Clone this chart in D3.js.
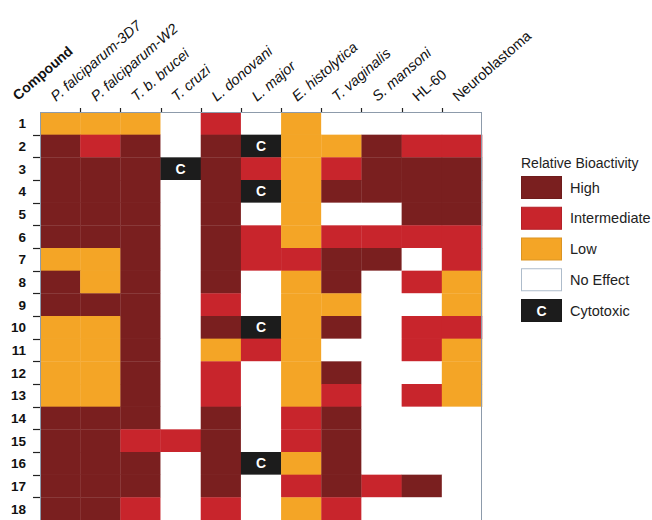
<!DOCTYPE html>
<html>
<head>
<meta charset="utf-8">
<script src="https://cdn.jsdelivr.net/npm/d3@7"></script>
<style>
  html, body { margin: 0; padding: 0; background: #fff; }
  svg { display: block; }
  text { font-family: "Liberation Sans", Arial, Helvetica, sans-serif; }
</style>
</head>
<body>
<svg id="chart" width="652" height="520"></svg>
<script>
// ---- data ----
const compounds = ["1","2","3","4","5","6","7","8","9","10","11","12","13","14","15","16","17","18"];
const organisms = ["P. falciparum-3D7","P. falciparum-W2","T. b. brucei","T. cruzi","L. donovani","L. major",
                   "E. histolytica","T. vaginalis","S. mansoni","HL-60","Neuroblastoma"];
const italicOrganisms = [true,true,true,true,true,true,true,true,true,false,false];
// H = High, I = Intermediate, L = Low, N = No Effect, C = Cytotoxic
const activity = [
  ["L","L","L","N","I","N","L","N","N","N","N"],
  ["H","I","H","N","H","C","L","L","H","I","I"],
  ["H","H","H","C","H","I","L","I","H","H","H"],
  ["H","H","H","N","H","C","L","H","H","H","H"],
  ["H","H","H","N","H","N","L","N","N","H","H"],
  ["H","H","H","N","H","I","L","I","I","I","I"],
  ["L","L","H","N","H","I","I","H","H","N","I"],
  ["H","L","H","N","H","N","L","H","N","I","L"],
  ["H","H","H","N","I","N","L","L","N","N","L"],
  ["L","L","H","N","H","C","L","H","N","I","I"],
  ["L","L","H","N","L","I","L","N","N","I","L"],
  ["L","L","H","N","I","N","L","H","N","N","L"],
  ["L","L","H","N","I","N","L","I","N","I","L"],
  ["H","H","H","N","H","N","I","H","N","N","N"],
  ["H","H","I","I","H","N","I","H","N","N","N"],
  ["H","H","H","N","H","C","L","H","N","N","N"],
  ["H","H","H","N","H","N","I","H","I","H","N"],
  ["H","H","I","N","I","N","L","I","N","N","N"]
];
const levelCodes  = ["H","I","L","N","C"];
const levelLabels = ["High","Intermediate","Low","No Effect","Cytotoxic"];
const levelColors = ["#7a1f1f","#c8252c","#f4a526","#ffffff","#1c1c1c"];
const legendTitle = "Relative Bioactivity";
const cornerLabel = "Compound";

// ---- layout ----
const svg = d3.select("#chart");
const plot = {left: 40, right: 482, top: 112, bottom: 520};

const x = d3.scaleBand().domain(organisms).range([plot.left, plot.right]).padding(0);
const y = d3.scaleBand().domain(compounds).range([plot.top, plot.bottom]).padding(0);
const color = d3.scaleOrdinal().domain(levelCodes).range(levelColors);

const cells = [];
activity.forEach((row, ri) => row.forEach((v, ci) => cells.push({c: compounds[ri], o: organisms[ci], v})));

const g = svg.append("g");
g.selectAll("rect.cell").data(cells).join("rect")
  .attr("class","cell")
  .attr("x", d => x(d.o))
  .attr("y", d => y(d.c))
  .attr("width", x.bandwidth() + 0.3)
  .attr("height", y.bandwidth() + 0.3)
  .attr("fill", d => color(d.v));

g.selectAll("text.cyto").data(cells.filter(d => d.v === "C")).join("text")
  .attr("class","cyto")
  .attr("x", d => x(d.o) + x.bandwidth()/2)
  .attr("y", d => y(d.c) + y.bandwidth()/2)
  .attr("dy","0.36em")
  .attr("text-anchor","middle")
  .attr("fill","#fff")
  .attr("font-weight","bold")
  .attr("font-size","14px")
  .text("C");

// frame
svg.append("rect")
  .attr("x", plot.left + 0.5).attr("y", plot.top + 0.5)
  .attr("width", plot.right - plot.left - 1).attr("height", plot.bottom - plot.top + 5)
  .attr("fill","none").attr("stroke","#8d9bab").attr("stroke-width",1);

// left ticks (row boundaries) and labels
const rowBounds = compounds.slice(0, -1).map(c => y(c) + y.bandwidth());
svg.selectAll("line.rtick").data(rowBounds).join("line")
  .attr("x1", plot.left - 7).attr("x2", plot.left)
  .attr("y1", d => Math.round(d) + 0.5).attr("y2", d => Math.round(d) + 0.5)
  .attr("stroke","#222").attr("stroke-width",1.2);

svg.selectAll("text.rlab").data(compounds).join("text")
  .attr("class","rlab")
  .attr("x", 26)
  .attr("y", d => y(d) + y.bandwidth()/2)
  .attr("dy","0.36em")
  .attr("text-anchor","end")
  .attr("font-weight","bold")
  .attr("font-size","13.5px")
  .attr("fill","#111")
  .text(d => d);

// top ticks (column boundaries) and labels
const colBounds = organisms.slice(0, -1).map(o => x(o) + x.bandwidth());
svg.selectAll("line.ctick").data(colBounds).join("line")
  .attr("x1", d => Math.round(d) + 0.5).attr("x2", d => Math.round(d) + 0.5)
  .attr("y1", plot.top - 4).attr("y2", plot.top)
  .attr("stroke","#222").attr("stroke-width",1.2);

const angle = -41;
svg.selectAll("text.clab").data(organisms).join("text")
  .attr("class","clab")
  .attr("transform", d => `translate(${x(d) + x.bandwidth()/2 - 4},${102}) rotate(${angle})`)
  .attr("font-size","14.5px")
  .attr("font-style", (d,i) => italicOrganisms[i] ? "italic" : "normal")
  .attr("fill","#111")
  .text(d => d);

svg.append("text")
  .attr("transform", `translate(18,101) rotate(${angle})`)
  .attr("font-size","14px")
  .attr("font-weight","bold")
  .attr("fill","#111")
  .text(cornerLabel);

// legend
const lg = svg.append("g").attr("transform","translate(521,0)");
lg.append("text").attr("x",0).attr("y",168).attr("font-size","14px").attr("fill","#222").text(legendTitle);
const ly = d3.scalePoint().domain(levelCodes).range([176, 299]);
const items = lg.selectAll("g.item").data(levelCodes).join("g").attr("class","item")
  .attr("transform", d => `translate(0,${ly(d)})`);
items.append("rect")
  .attr("x",0.5).attr("y",0.5).attr("width",40).attr("height",22)
  .attr("fill", d => color(d))
  .attr("stroke", d => d === "N" ? "#aebccb" : d3.color(color(d)).darker(0.3))
  .attr("stroke-width",1);
items.filter(d => d === "C").append("text")
  .attr("x",20.5).attr("y",11.5).attr("dy","0.36em").attr("text-anchor","middle")
  .attr("fill","#fff").attr("font-weight","bold").attr("font-size","14px").text("C");
items.append("text")
  .attr("x",49).attr("y",11.5).attr("dy","0.36em")
  .attr("font-size","14.5px").attr("fill","#222")
  .text((d,i) => levelLabels[i]);
</script>
</body>
</html>
